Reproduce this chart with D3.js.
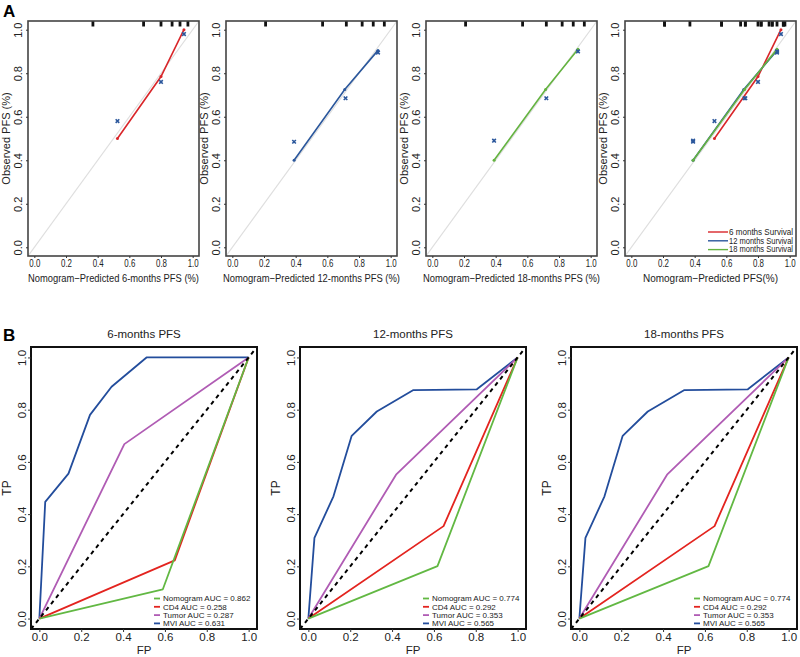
<!DOCTYPE html>
<html>
<head>
<meta charset="utf-8">
<script src="https://cdn.jsdelivr.net/npm/d3@7"></script>
<style>
  body { margin: 0; background: #fff; }
  svg { display: block; font-family: Arial, "Liberation Sans", sans-serif; }
</style>
</head>
<body>
<svg id="chart" width="800" height="657"></svg>
<script>
// ---- data: calibration (panel A) ----
const cal6Pred = [0.525, 0.80, 0.945];
const cal6Obs = [0.50, 0.785, 1.00];
const cal6KmX = [0.525, 0.80, 0.945];
const cal6KmY = [0.58, 0.76, 0.98];
const rug6 = [0.37, 0.69, 0.80, 0.87, 0.92, 0.97];

const cal12Pred = [0.39, 0.71, 0.92];
const cal12Obs = [0.40, 0.725, 0.905];
const cal12KmX = [0.39, 0.715, 0.92];
const cal12KmY = [0.485, 0.685, 0.895];
const rug12 = [0.21, 0.57, 0.72, 0.82, 0.89, 0.96];

const cal18Pred = [0.39, 0.715, 0.92];
const cal18Obs = [0.40, 0.725, 0.91];
const cal18KmX = [0.39, 0.72, 0.92];
const cal18KmY = [0.49, 0.685, 0.90];
const rug18 = [0.21, 0.57, 0.72, 0.82, 0.89, 0.96];

const axisTicks = [0, 0.2, 0.4, 0.6, 0.8, 1.0];
const survivalLabels = [" 6 months Survival", "12 months Survival", "18 months Survival"];

// ---- data: ROC (panel B) ----
const rocNames = ["Nomogram", "CD4", "Tumor", "MVI"];
const auc6 = [0.862, 0.258, 0.287, 0.631];
const auc12 = [0.774, 0.292, 0.353, 0.565];
const auc18 = [0.774, 0.292, 0.353, 0.565];

const roc6 = {
  Nomogram: { fp: [0, 0.59, 1], tp: [0, 0.112, 1] },
  CD4: { fp: [0, 0.647, 1], tp: [0, 0.223, 1] },
  Tumor: { fp: [0, 0.406, 1], tp: [0, 0.668, 1] },
  MVI: { fp: [0, 0.028, 0.139, 0.242, 0.345, 0.512, 1], tp: [0, 0.447, 0.555, 0.78, 0.888, 1, 1] }
};
const roc12 = {
  Nomogram: { fp: [0, 0.617, 1], tp: [0, 0.201, 1] },
  CD4: { fp: [0, 0.646, 1], tp: [0, 0.354, 1] },
  Tumor: { fp: [0, 0.419, 1], tp: [0, 0.551, 1] },
  MVI: { fp: [0, 0.029, 0.12, 0.207, 0.327, 0.502, 0.805, 1], tp: [0, 0.309, 0.468, 0.70, 0.793, 0.875, 0.878, 1] }
};
const roc18 = roc12;

const colA = { red: "#d9262a", blue: "#2b579c", green: "#64b340", grey: "#dedede" };
const colB = { Nomogram: "#62b843", CD4: "#e3241f", Tumor: "#b05cb4", MVI: "#234d9c" };

const svg = d3.select("#chart");
const fmt = d3.format(".1f");

// panel letters
svg.append("text").attr("x", 3).attr("y", 17).attr("font-size", 17).attr("font-weight", "bold").text("A");
svg.append("text").attr("x", 3).attr("y", 341).attr("font-size", 17).attr("font-weight", "bold").text("B");

function frame(g, x, y, opts) {
  const [x0, x1] = x.range();
  const [y0, y1] = y.range();
  // x axis ticks + labels
  const xa = g.append("g")
    .attr("transform", `translate(0,${y0})`)
    .call(d3.axisBottom(x).tickValues(axisTicks).tickFormat(fmt).tickSize(opts.tick).tickPadding(opts.pad))
    .call((a) => a.select(".domain").remove())
    .call((a) => a.selectAll("line").attr("stroke", "#333"));
  xa.selectAll("text").attr("font-size", opts.fs).attr("fill", "#222").attr("font-family", null);
  if (opts.squeeze) {
    xa.selectAll("text").attr("textLength", opts.squeeze).attr("lengthAdjust", "spacingAndGlyphs");
  }
  // y axis ticks + rotated labels
  const ya = g.append("g")
    .attr("transform", `translate(${x0},0)`)
    .call(d3.axisLeft(y).tickValues(axisTicks).tickFormat(fmt).tickSize(opts.tick))
    .call((a) => a.select(".domain").remove())
    .call((a) => a.selectAll("line").attr("stroke", "#333"));
  ya.selectAll("text")
    .attr("font-size", opts.fs).attr("fill", "#222").attr("font-family", null)
    .attr("x", null).attr("dy", null)
    .attr("text-anchor", "middle")
    .attr("transform", `translate(${-opts.ylab},0) rotate(-90)`);
  return g;
}

function box(g, x, y, sw, color) {
  const [x0, x1] = x.range();
  const [y0, y1] = y.range();
  g.append("rect").attr("x", x0).attr("y", y1).attr("width", x1 - x0).attr("height", y0 - y1)
    .attr("fill", "none").attr("stroke", color).attr("stroke-width", sw);
}

// ---- panel A ----
const aLefts = [28, 226, 426, 625];
const aW = 171, aTop = 21, aBot = 256;
const calPanels = [
  { title: "Nomogram\u2212Predicted 6-months PFS (%)", tw: 171, series: [{ px: cal6Pred, py: cal6Obs, kx: cal6KmX, ky: cal6KmY, c: colA.red }], rug: rug6 },
  { title: "Nomogram\u2212Predicted 12-months PFS (%)", tw: 177, series: [{ px: cal12Pred, py: cal12Obs, kx: cal12KmX, ky: cal12KmY, c: colA.blue }], rug: rug12 },
  { title: "Nomogram\u2212Predicted 18-months PFS (%)", tw: 177, series: [{ px: cal18Pred, py: cal18Obs, kx: cal18KmX, ky: cal18KmY, c: colA.green }], rug: rug18 },
  {
    title: "Nomogram\u2212Predicted PFS(%)",
    tw: 135,
    series: [
      { px: cal6Pred, py: cal6Obs, kx: cal6KmX, ky: cal6KmY, c: colA.red },
      { px: cal12Pred, py: cal12Obs, kx: cal12KmX, ky: cal12KmY, c: colA.blue },
      { px: cal18Pred, py: cal18Obs, kx: cal18KmX, ky: cal18KmY, c: colA.green }
    ],
    rug: rug6.concat(rug12, rug18),
    legend: true
  }
];

calPanels.forEach((p, i) => {
  const L = aLefts[i];
  const x = d3.scaleLinear().domain([-0.04, 1.04]).range([L, L + aW]);
  const y = d3.scaleLinear().domain([-0.04, 1.04]).range([aBot, aTop]);
  const g = svg.append("g");

  // ideal line
  g.append("line")
    .attr("x1", x(-0.04)).attr("y1", y(-0.04)).attr("x2", x(1.04)).attr("y2", y(1.04))
    .attr("stroke", colA.grey).attr("stroke-width", 1.2);

  // rug at top
  g.selectAll(".rug").data(p.rug).join("line")
    .attr("x1", (d) => x(d)).attr("x2", (d) => x(d))
    .attr("y1", aTop).attr("y2", aTop + 5.5)
    .attr("stroke", "#111").attr("stroke-width", 2.8);

  const line = d3.line().x((d) => x(d[0])).y((d) => y(d[1]));
  p.series.forEach((s) => {
    const pts = s.px.map((v, k) => [v, s.py[k]]);
    g.append("path").attr("d", line(pts)).attr("fill", "none").attr("stroke", s.c).attr("stroke-width", 1.6);
    g.selectAll(null).data(pts).join("circle")
      .attr("cx", (d) => x(d[0])).attr("cy", (d) => y(d[1])).attr("r", 1.5).attr("fill", s.c);
    const km = s.kx.map((v, k) => [v, s.ky[k]]);
    const sym = d3.symbol().type(d3.symbolX).size(10);
    g.selectAll(null).data(km).join("path")
      .attr("d", sym)
      .attr("transform", (d) => `translate(${x(d[0])},${y(d[1])})`)
      .attr("stroke", colA.blue).attr("stroke-width", 1.6).attr("fill", "none");
  });

  box(g, x, y, 1.6, "#444");
  frame(g, x, y, { tick: 2, fs: 11, ylab: 6, pad: 1, squeeze: 11 });

  g.append("text").attr("x", L + aW / 2).attr("y", 282).attr("text-anchor", "middle")
    .attr("font-size", 11).attr("fill", "#222")
    .attr("textLength", p.tw).attr("lengthAdjust", "spacingAndGlyphs")
    .text(p.title);
  g.append("text").attr("transform", `translate(${L - 18},${(aTop + aBot) / 2}) rotate(-90)`)
    .attr("text-anchor", "middle").attr("font-size", 11).attr("fill", "#222").text("Observed PFS (%)");

  if (p.legend) {
    const lc = [colA.red, colA.blue, colA.green];
    survivalLabels.forEach((lab, k) => {
      const yy = 232 + k * 8.8;
      g.append("line").attr("x1", L + 83).attr("x2", L + 103).attr("y1", yy).attr("y2", yy)
        .attr("stroke", lc[k]).attr("stroke-width", 1.4);
      g.append("text").attr("x", L + 168).attr("y", yy + 2.8).attr("text-anchor", "end")
        .attr("font-size", 8.2).attr("fill", "#222")
        .attr("textLength", 64).attr("lengthAdjust", "spacingAndGlyphs")
        .text(lab.trim());
    });
  }
});

// ---- panel B ----
const bPanels = [
  { title: "6-months PFS", L: 31, R: 257, roc: roc6, auc: auc6 },
  { title: "12-months PFS", L: 300, R: 526, roc: roc12, auc: auc12 },
  { title: "18-months PFS", L: 571, R: 797, roc: roc18, auc: auc18 }
];
const bTop = 347, bBot = 629;

bPanels.forEach((p) => {
  const x = d3.scaleLinear().domain([-0.04, 1.04]).range([p.L, p.R]);
  const y = d3.scaleLinear().domain([-0.04, 1.04]).range([bBot, bTop]);
  const g = svg.append("g");

  const line = d3.line().x((d) => x(d[0])).y((d) => y(d[1]));
  // draw in order so green sits on top
  ["MVI", "Tumor", "CD4", "Nomogram"].forEach((n) => {
    const r = p.roc[n];
    const pts = r.fp.map((v, k) => [v, r.tp[k]]);
    g.append("path").attr("d", line(pts)).attr("fill", "none")
      .attr("stroke", colB[n]).attr("stroke-width", 1.8).attr("stroke-linejoin", "round");
  });

  g.append("line")
    .attr("x1", x(-0.04)).attr("y1", y(-0.04)).attr("x2", x(1.04)).attr("y2", y(1.04))
    .attr("stroke", "#000").attr("stroke-width", 2).attr("stroke-dasharray", "4,4");

  box(g, x, y, 2, "#111");
  frame(g, x, y, { tick: 3, fs: 11.5, ylab: 5, pad: 1 });

  g.append("text").attr("x", (p.L + p.R) / 2).attr("y", 338).attr("text-anchor", "middle")
    .attr("font-size", 11.5).attr("fill", "#222").text(p.title);
  g.append("text").attr("x", (p.L + p.R) / 2).attr("y", 654).attr("text-anchor", "middle")
    .attr("font-size", 11.5).attr("fill", "#222").text("FP");
  g.append("text").attr("transform", `translate(${p.L - 20},${(bTop + bBot) / 2}) rotate(-90)`)
    .attr("text-anchor", "middle").attr("font-size", 12).attr("fill", "#222").text("TP");

  rocNames.forEach((n, k) => {
    const yy = 598.5 + k * 8.3;
    g.append("line").attr("x1", p.L + 123).attr("x2", p.L + 129).attr("y1", yy).attr("y2", yy)
      .attr("stroke", colB[n]).attr("stroke-width", 1.8);
    g.append("text").attr("x", p.L + 132).attr("y", yy + 2.9).attr("font-size", 8).attr("fill", "#222")
      .text(`${n} AUC = ${p.auc[k].toFixed(3)}`);
  });
});
</script>
</body>
</html>
